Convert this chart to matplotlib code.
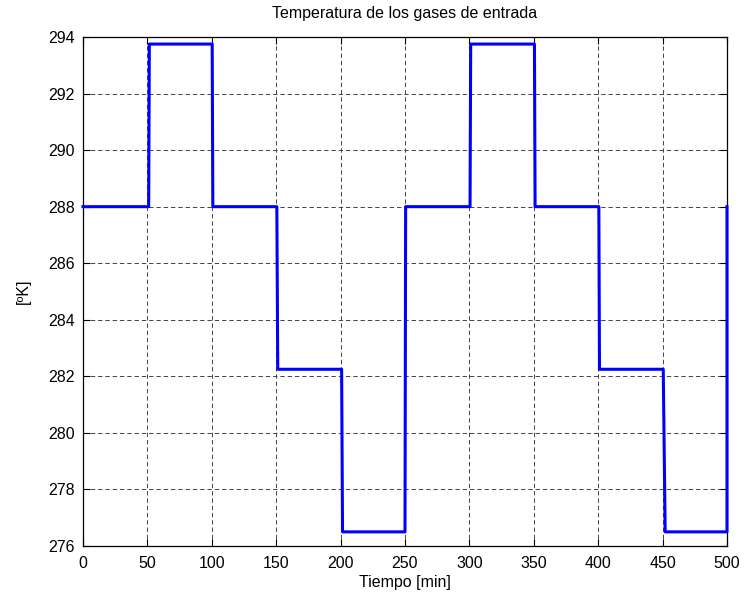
import matplotlib
matplotlib.use("Agg")
import matplotlib.pyplot as plt

# Data: piecewise-constant inlet gas temperature (with short transitions)
tiempo = [0, 51, 51.5, 100.3, 100.8, 150.5, 151.2, 200.8, 201.5, 250, 250.5,
          300.5, 301, 350.5, 351, 400.5, 401, 450.5, 452, 500, 500]
temperatura = [288, 288, 293.75, 293.75, 288, 288, 282.25, 282.25, 276.5, 276.5, 288,
               288, 293.75, 293.75, 288, 288, 282.25, 282.25, 276.5, 276.5, 288]
xticks = [0, 50, 100, 150, 200, 250, 300, 350, 400, 450, 500]
yticks = [276, 278, 280, 282, 284, 286, 288, 290, 292, 294]

plt.rcParams['font.family'] = ['Liberation Sans', 'DejaVu Sans']

fig = plt.figure(figsize=(7.46, 6.0), dpi=100)
ax = fig.add_axes([83/746, 54/600, 644/746, 509/600])
ax.plot(tiempo, temperatura, color=(0, 0, 1), linewidth=2.2, clip_on=False, zorder=3)
ax.set_xlim(0, 500)
ax.set_ylim(276, 294)
ax.set_xticks(xticks)
ax.set_yticks(yticks)
ax.tick_params(direction='in', top=True, right=True, length=5, labelsize=11.5, width=0.8)
ax.tick_params(axis='x', pad=7)
ax.tick_params(axis='y', pad=6)
ax.grid(True, color='#444444', linestyle=(0, (4.5, 3)), linewidth=0.7)
for s in ax.spines.values():
    s.set_linewidth(0.9)
ax.set_title('Temperatura de los gases de entrada', fontsize=11.5, pad=14)
ax.set_xlabel('Tiempo [min]', fontsize=11.5, labelpad=3)
ax.set_ylabel('[ºK]', fontsize=11.5, labelpad=12)
fig.savefig('out.png', dpi=100)
